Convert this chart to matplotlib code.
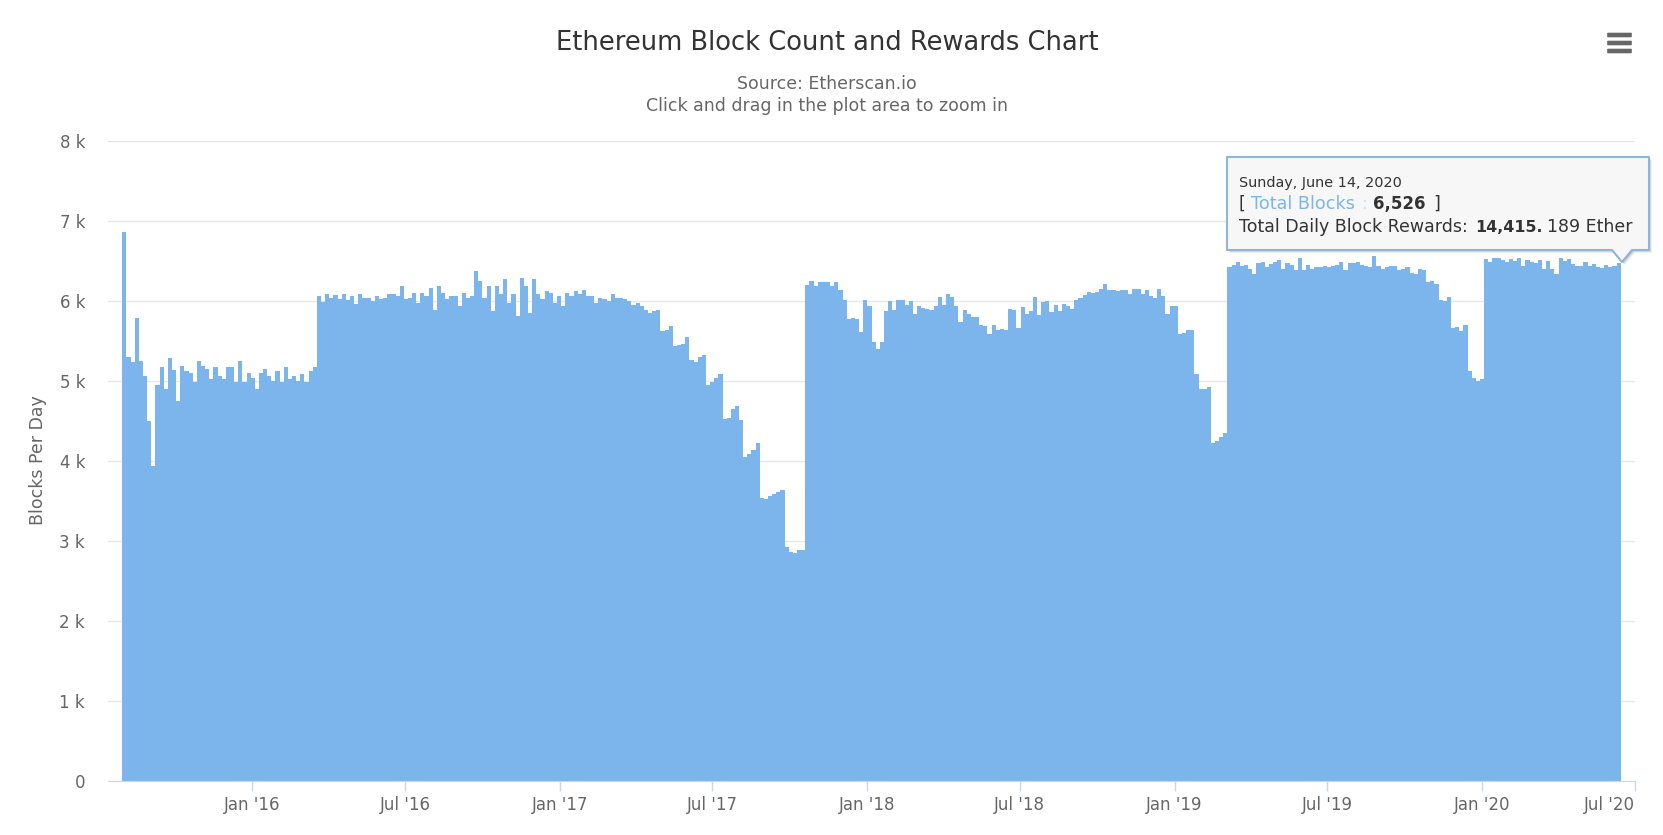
import numpy as np
import pandas as pd
import matplotlib
matplotlib.use("Agg")
import matplotlib.pyplot as plt
import matplotlib.dates as mdates
from matplotlib.patches import FancyBboxPatch, Polygon

# blocks per day, roughly one value per 5 days
blocks_launch = [6860, 5300, 5230, 5780, 5250, 5060, 4500, 3930, 4950, 5170, 4900, 5280,
                 5130, 4750, 5190, 5120, 5100, 4980, 5250, 5190, 5150, 5020, 5170, 5060,
                 5020, 5170, 5170, 4980, 5250, 4980, 5100, 5040, 4900, 5100, 5150, 5060,
                 5000, 5120, 4980, 5170, 5020, 5060, 5000, 5080, 4980, 5120, 5170]
blocks_2016 = [6060, 5980, 6090, 6030, 6070, 6020, 6080, 6010, 6060, 5960, 6080, 6030,
               6040, 6000, 6060, 6020, 6030, 6080, 6080, 6060, 6180, 6020, 6030, 6100,
               5975, 6100, 6060, 6160, 5890, 6180, 6100, 6020, 6060, 6060, 5930, 6100,
               6040, 6060, 6370, 6250, 6040, 6180, 5870, 6180, 6080, 6270, 5975, 6080,
               5810, 6290, 6180, 5850, 6270, 6080, 6020, 6120, 6100, 5975, 6060, 5930,
               6100, 6060, 6120, 6080, 6140, 6060, 6060, 5975, 6040, 6020, 6000, 6080]
blocks_bomb = [6030, 6040, 6020, 6000, 5950, 5970, 5930, 5880, 5850, 5870, 5880,
               5620, 5640, 5690, 5430, 5450, 5460, 5550, 5260, 5230, 5300, 5320,
               4950, 4990, 5040, 5080, 4520, 4530, 4650, 4680, 4510, 4050, 4090,
               4140, 4220, 3530, 3520, 3560, 3580, 3610, 3640, 2920, 2860, 2850,
               2890, 2880]
blocks_2018 = [6200, 6250, 6180, 6240, 6230, 6240, 6190, 6240, 6130, 6010, 5770, 5790,
               5770, 5610, 6010, 5930, 5480, 5400, 5480, 5870, 6000, 5890, 6010, 6010,
               5950, 6000, 5840, 5930, 5910, 5900, 5880, 5930, 6050, 5950, 6080, 6050,
               5930, 5740, 5880, 5830, 5800, 5800, 5700, 5690, 5590, 5700, 5640, 5650,
               5640, 5900, 5880, 5660, 5920, 5830, 5870, 6050, 5820, 5990, 6000, 5860,
               5950, 5870, 5960, 5940, 5900, 6010, 6030, 6070, 6110, 6100, 6110, 6150,
               6210, 6140, 6130]
blocks_2019 = [6120, 6130, 6140, 6090, 6150, 6150, 6080, 6130, 6060, 6040, 6150, 6060,
               5830, 5940, 5930, 5590, 5600, 5630, 5640, 5080, 4900, 4900, 4920, 4220,
               4250, 4300, 4350, 6420, 6450, 6490, 6440, 6450, 6400, 6330, 6470, 6480,
               6420, 6460, 6480, 6510, 6400, 6470, 6450, 6380, 6530, 6380, 6450, 6400,
               6420, 6420, 6440, 6420, 6440, 6450, 6480, 6380, 6470, 6470, 6490, 6450,
               6440, 6420, 6560, 6440, 6400, 6420, 6430, 6440, 6380, 6400, 6420, 6350,
               6340, 6400, 6390, 6240, 6250, 6210, 6010, 6000, 6050, 5660, 5670, 5620,
               5700, 5120, 5040, 5000, 5020]
blocks_2020 = [6520, 6480, 6530, 6540, 6510, 6490, 6520, 6500, 6540, 6430, 6510, 6480,
               6470, 6510, 6400, 6500, 6400, 6340, 6530, 6500, 6520, 6460, 6440, 6430,
               6490, 6440, 6460, 6420, 6410, 6450, 6420, 6440, 6470]

y_ticks = [0, 1000, 2000, 3000, 4000, 5000, 6000, 7000, 8000]
y_labels = ["0", "1 k", "2 k", "3 k", "4 k", "5 k", "6 k", "7 k", "8 k"]
x_ticks = ["2016-01-01", "2016-07-01", "2017-01-01", "2017-07-01", "2018-01-01",
           "2018-07-01", "2019-01-01", "2019-07-01", "2020-01-01", "2020-07-01"]
x_labels = ["Jan '16", "Jul '16", "Jan '17", "Jul '17", "Jan '18",
            "Jul '18", "Jan '19", "Jul '19", "Jan '20", "Jul '20"]

blocks = blocks_launch + blocks_2016 + blocks_bomb + blocks_2018 + blocks_2019 + blocks_2020

W, H = 1663, 835
TEXT = "#666666"
BLUE = "#7cb5ec"

fig = plt.figure(figsize=(W / 100, H / 100), dpi=100)
ax = fig.add_axes([108 / W, 1 - 780.7 / H, (1635 - 108) / W, 640 / H])

edges = mdates.date2num(pd.date_range("2015-07-31", "2020-06-14", periods=len(blocks) + 1))
ax.bar(edges[:-1], blocks, width=np.diff(edges), align="edge", color=BLUE, linewidth=0, zorder=3)

px_per_day = (1482 - 252) / 1461.0
jan16 = mdates.date2num(pd.Timestamp("2016-01-01"))
ax.set_xlim(jan16 - (252 - 108) / px_per_day, jan16 + (1635 - 252) / px_per_day)
ax.set_ylim(0, 8000)

ax.set_xticks(mdates.date2num(pd.to_datetime(x_ticks)))
ax.set_xticklabels(x_labels)
ax.set_yticks(y_ticks)
ax.set_yticklabels(y_labels)
ax.get_xticklabels()[-1].set_ha("right")
ax.tick_params(axis="x", length=7.2, width=1, color="#ccd6eb", labelcolor=TEXT, labelsize=12, pad=4)
ax.tick_params(axis="y", length=0, labelcolor=TEXT, labelsize=12, pad=16.5)
ax.grid(axis="y", color="#e6e6e6", linewidth=1)
ax.set_axisbelow(True)
for side in ["top", "left", "right"]:
    ax.spines[side].set_visible(False)
ax.spines["bottom"].set_color("#ccd6eb")
ax.spines["bottom"].set_zorder(4)

# overlay in pixel coordinates for titles, tooltip and menu icon
ov = fig.add_axes([0, 0, 1, 1], zorder=10)
ov.set_xlim(0, W)
ov.set_ylim(H, 0)
ov.axis("off")
ov.patch.set_alpha(0)

ov.text(827, 43, "Ethereum Block Count and Rewards Chart", ha="center", va="center",
        fontsize=18.5, color="#333333")
ov.text(827, 84, "Source: Etherscan.io", ha="center", va="center", fontsize=12.5, color=TEXT)
ov.text(827, 106, "Click and drag in the plot area to zoom in", ha="center", va="center",
        fontsize=12.5, color=TEXT)
ov.text(38, 460, "Blocks Per Day", rotation=90, ha="center", va="center", fontsize=12.5, color=TEXT)

# menu icon
for y in [35, 43, 51]:
    ov.add_patch(FancyBboxPatch((1608, y - 1.5), 23, 3, boxstyle="round,pad=0.8",
                                fc=TEXT, ec="none"))

# tooltip
box = [(1227, 157), (1649, 157), (1649, 250), (1632, 250), (1622, 262), (1612, 250), (1227, 250)]
for off, al in [(3, 0.06), (2, 0.10), (1, 0.15)]:
    ov.add_patch(Polygon([(x + off, y + off) for x, y in box], closed=True, fc="#000000",
                         ec="none", alpha=al))
ov.add_patch(Polygon(box, closed=True, fc="#f7f7f7", ec="#8fb5d9", lw=1.5, joinstyle="round"))

ov.text(1239, 187, "Sunday, June 14, 2020", fontsize=10.4, color="#333333", va="baseline")
ov.text(1239, 209, "[", fontsize=12.5, color="#333333", va="baseline")
ov.text(1251, 209, "Total Blocks", fontsize=12.7, color=BLUE, va="baseline")
ov.text(1362, 209, ":", fontsize=12.5, color="#cfdfee", va="baseline")
ov.text(1373, 209, "6,526", fontsize=12, color="#333333", va="baseline", fontweight="bold")
ov.text(1433, 209, "]", fontsize=12.5, color="#333333", va="baseline")
ov.text(1239, 232, "Total Daily Block Rewards:", fontsize=12.5, color="#333333", va="baseline")
ov.text(1475, 232, "14,415.", fontsize=11.4, color="#333333", va="baseline", fontweight="bold")
ov.text(1547, 232, "189 Ether", fontsize=12.5, color="#333333", va="baseline")

fig.savefig("out.png", dpi=100)
